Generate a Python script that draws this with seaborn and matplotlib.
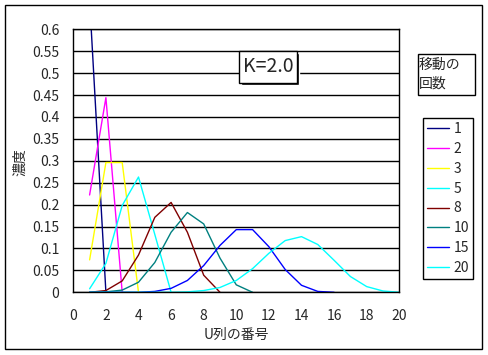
import numpy as np
import pandas as pd
import matplotlib
matplotlib.use('Agg')
import matplotlib.pyplot as plt
import seaborn as sns
from matplotlib.patches import Rectangle

# ── data (value at U-column 1, 2, 3, ...) ──
moves = ['1', '2', '3', '5', '8', '10', '15', '20']
conc_1 = [0.667, 0.0]
conc_2 = [0.222, 0.444, 0.0]
conc_3 = [0.074, 0.296, 0.296, 0.0]
conc_5 = [0.008, 0.066, 0.198, 0.263, 0.132, 0.0]
conc_8 = [0.000, 0.004, 0.026, 0.085, 0.171, 0.205, 0.137, 0.039, 0.0]
conc_10 = [0.000, 0.001, 0.005, 0.023, 0.068, 0.137, 0.182, 0.156, 0.078,
           0.017, 0.0]
conc_15 = [0.000, 0.000, 0.000, 0.000, 0.002, 0.009, 0.027, 0.061, 0.107,
           0.143, 0.143, 0.104, 0.052, 0.016, 0.002, 0.0]
conc_20 = [0.000, 0.000, 0.000, 0.000, 0.000, 0.000, 0.001, 0.004, 0.011,
           0.027, 0.054, 0.089, 0.118, 0.127, 0.109, 0.073, 0.036, 0.013,
           0.003, 0.000]
colors = ['#000080', '#FF00FF', '#FFFF00', '#00FFFF',
          '#800000', '#008080', '#0000FF', '#00FFFF']
x_ticks = [0, 2, 4, 6, 8, 10, 12, 14, 16, 18, 20]
y_ticks = [0, 0.05, 0.1, 0.15, 0.2, 0.25, 0.3, 0.35, 0.4, 0.45, 0.5, 0.55, 0.6]
y_tick_labels = ['0', '0.05', '0.1', '0.15', '0.2', '0.25', '0.3', '0.35',
                 '0.4', '0.45', '0.5', '0.55', '0.6']

series = [conc_1, conc_2, conc_3, conc_5, conc_8, conc_10, conc_15, conc_20]
rows = []
for name, vals in zip(moves, series):
    for i, v in enumerate(vals):
        rows.append({'u': i + 1, 'conc': v, 'moves': name})
df = pd.DataFrame(rows)

sns.set_style('white')
plt.rcParams['font.family'] = ['Noto Sans CJK JP', 'DejaVu Sans']

W, H = 488, 355
fig = plt.figure(figsize=(W / 100, H / 100), dpi=100)


def fx(px):
    return px / W


def fy(py):
    return 1 - py / H


ax = fig.add_axes([fx(73.3), fy(292.3), (399.3 - 73.3) / W, (292.3 - 29.3) / H])

sns.lineplot(data=df, x='u', y='conc', hue='moves', hue_order=moves,
             palette=dict(zip(moves, colors)), linewidth=1.0, ax=ax,
             estimator=None, sort=False)

ax.set_xlim(0, 20)
ax.set_ylim(0, 0.6)
ax.set_xticks(x_ticks)
ax.set_yticks(y_ticks)
ax.set_yticklabels(y_tick_labels)
ax.tick_params(axis='x', direction='in', length=4, width=1, color='black',
               pad=12, labelsize=10)
ax.tick_params(axis='y', length=0, pad=10, labelsize=10)
ax.yaxis.grid(True, color='black', linewidth=1)
ax.xaxis.grid(False)
ax.set_axisbelow(True)
for sp in ax.spines.values():
    sp.set_color('black')
    sp.set_linewidth(1)

ax.set_xlabel('U列の番号', fontsize=10)
ax.set_ylabel('濃度', fontsize=10)
ax.xaxis.set_label_coords(0.5, -0.162)
ax.xaxis.label.set_verticalalignment('center')
ax.yaxis.set_label_coords(-0.1635, 0.495)
ax.yaxis.label.set_verticalalignment('center')

handles, labels = ax.get_legend_handles_labels()
leg = ax.legend(handles, labels, loc='upper left',
                bbox_to_anchor=(fx(423), fy(118)), bbox_transform=fig.transFigure,
                borderaxespad=0, frameon=True, fancybox=False, edgecolor='black',
                framealpha=1, fontsize=10, handlelength=1.6, handletextpad=0.3,
                labelspacing=0.42, borderpad=0.3)
leg.get_frame().set_linewidth(1)

# "K=2.0" box with drop shadow
fig.patches.append(Rectangle((fx(241), fy(85)), 58 / W, 32 / H, facecolor='black',
                             transform=fig.transFigure, zorder=2))
fig.patches.append(Rectangle((fx(239), fy(83)), 58 / W, 32 / H, facecolor='white',
                             edgecolor='black', linewidth=1,
                             transform=fig.transFigure, zorder=2))
fig.text(fx(268), fy(67), 'K=2.0', ha='center', va='center', fontsize=14, zorder=3)

# legend title box
fig.patches.append(Rectangle((fx(418), fy(95)), 57 / W, 41 / H, facecolor='white',
                             edgecolor='black', linewidth=1,
                             transform=fig.transFigure, zorder=2))
fig.text(fx(419), fy(65), '移動の', ha='left', va='center', fontsize=10, zorder=3)
fig.text(fx(419), fy(84), '回数', ha='left', va='center', fontsize=10, zorder=3)

# outer frame
fig.patches.append(Rectangle((fx(5), fy(349)), 477 / W, 344 / H, fill=False,
                             edgecolor='black', linewidth=1,
                             transform=fig.transFigure, zorder=2))

fig.savefig('out.png', dpi=100)
